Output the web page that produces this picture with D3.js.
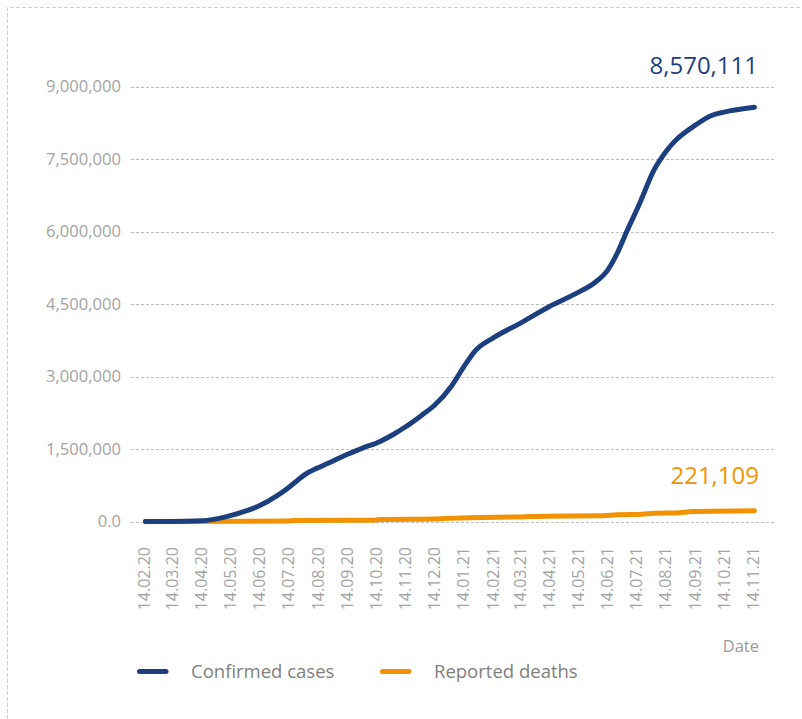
<!DOCTYPE html>
<html>
<head>
<meta charset="utf-8">
<script src="https://cdn.jsdelivr.net/npm/d3@7"></script>
<style>
  body { margin: 0; background: #fff; }
  svg text { font-family: "Open Sans", sans-serif; }
</style>
</head>
<body>
<div id="chart"></div>
<script>
// data
const caseDates = ["2020-02-15","2020-03-14","2020-04-14","2020-05-01","2020-05-14","2020-06-01","2020-06-14",
  "2020-07-01","2020-07-14","2020-07-24","2020-08-01","2020-08-14","2020-08-24","2020-09-14","2020-10-01",
  "2020-10-14","2020-11-01","2020-11-14","2020-12-01","2020-12-14","2021-01-01","2021-01-14","2021-01-26",
  "2021-02-14","2021-03-14","2021-04-14","2021-05-14","2021-06-01","2021-06-14","2021-06-24","2021-07-04",
  "2021-07-18","2021-08-01","2021-08-14","2021-08-24","2021-09-14","2021-10-01","2021-10-14","2021-11-15"];
const confirmedCases = [0, 1000, 15000, 60000, 120000, 230000, 330000,
  520000, 700000, 860000, 980000, 1110000, 1200000, 1390000, 1530000,
  1620000, 1800000, 1960000, 2200000, 2400000, 2800000, 3200000, 3530000,
  3800000, 4100000, 4450000, 4740000, 4950000, 5200000, 5550000, 6000000,
  6600000, 7250000, 7650000, 7880000, 8200000, 8400000, 8470000, 8570111];

const deathDates = ["2020-02-15","2020-07-12","2020-07-20","2020-10-12","2020-10-20","2020-12-12","2020-12-26",
  "2021-01-20","2021-03-14","2021-04-10","2021-06-08","2021-06-24","2021-07-20","2021-08-01","2021-08-28",
  "2021-09-10","2021-11-15"];
const reportedDeaths = [0, 8000, 20000, 28000, 40000, 50000, 62000,
  80000, 95000, 110000, 120000, 140000, 150000, 170000, 182000,
  205000, 221109];

const yTicks = [0, 1500000, 3000000, 4500000, 6000000, 7500000, 9000000];
const yTickLabels = ["0.0", "1,500,000", "3,000,000", "4,500,000", "6,000,000", "7,500,000", "9,000,000"];
const xTickDates = ["2020-02-14","2020-03-14","2020-04-14","2020-05-14","2020-06-14","2020-07-14","2020-08-14",
  "2020-09-14","2020-10-14","2020-11-14","2020-12-14","2021-01-14","2021-02-14","2021-03-14","2021-04-14",
  "2021-05-14","2021-06-14","2021-07-14","2021-08-14","2021-09-14","2021-10-14","2021-11-14"];
const seriesNames = ["Confirmed cases", "Reported deaths"];
const seriesColors = ["#1c3f7f", "#f39200"];

const W = 802, H = 719;
const parse = d3.utcParse("%Y-%m-%d");
const fmtTick = d3.utcFormat("%d.%m.%y");

const svg = d3.select("#chart").append("svg")
  .attr("width", W).attr("height", H);

// dashed frame (runs off the right and bottom edges)
svg.append("path")
  .attr("d", "M7.5," + H + "V7.5H" + W)
  .attr("fill", "none")
  .attr("stroke", "#d0d0d0")
  .attr("stroke-dasharray", "4,2");

const xScale = d3.scaleUtc()
  .domain([parse(xTickDates[0]), parse(xTickDates[xTickDates.length - 1])])
  .range([144.5, 753.5]);
const yScale = d3.scaleLinear().domain([0, 9000000]).range([521.5, 86.5]);

// gridlines + y labels
const yAxis = svg.append("g");
yAxis.selectAll("line").data(yTicks).enter().append("line")
  .attr("x1", 131).attr("x2", 775)
  .attr("y1", d => Math.round(yScale(d)) + 0.5)
  .attr("y2", d => Math.round(yScale(d)) + 0.5)
  .attr("stroke", "#bdbdbd")
  .attr("stroke-dasharray", "3,2");
yAxis.selectAll("text").data(yTicks).enter().append("text")
  .attr("x", 121)
  .attr("y", d => yScale(d))
  .attr("dy", "0.35em")
  .attr("text-anchor", "end")
  .attr("font-size", 16.6)
  .attr("fill", "#a3a3a3")
  .text((d, i) => yTickLabels[i]);

// x labels, vertical
svg.append("g").selectAll("text").data(xTickDates).enter().append("text")
  .attr("transform", d => "translate(" + xScale(parse(d)) + ",547) rotate(-90)")
  .attr("dy", "0.35em")
  .attr("text-anchor", "end")
  .attr("font-size", 16)
  .attr("fill", "#a3a3a3")
  .text(d => fmtTick(parse(d)));

svg.append("text")
  .attr("x", 759).attr("y", 652)
  .attr("text-anchor", "end")
  .attr("font-size", 16.5)
  .attr("fill", "#9a9a9a")
  .text("Date");

const line = d3.line()
  .x(d => xScale(d[0]))
  .y(d => yScale(d[1]))
  .curve(d3.curveMonotoneX);

const deaths = deathDates.map((d, i) => [parse(d), reportedDeaths[i]]);
const cases = caseDates.map((d, i) => [parse(d), confirmedCases[i]]);

[deaths, cases].forEach((s, i) => {
  svg.append("path")
    .datum(s)
    .attr("d", line)
    .attr("fill", "none")
    .attr("stroke", i === 0 ? seriesColors[1] : seriesColors[0])
    .attr("stroke-width", 5)
    .attr("stroke-linecap", "round")
    .attr("stroke-linejoin", "round");
});

// end value labels
svg.append("text")
  .attr("x", 758).attr("y", 74)
  .attr("text-anchor", "end")
  .attr("font-size", 24)
  .attr("fill", seriesColors[0])
  .text(d3.format(",")(confirmedCases[confirmedCases.length - 1]));
svg.append("text")
  .attr("x", 759).attr("y", 484)
  .attr("text-anchor", "end")
  .attr("font-size", 24)
  .attr("fill", seriesColors[1])
  .text(d3.format(",")(reportedDeaths[reportedDeaths.length - 1]));

// legend
const legendX = [137, 380];
const lg = svg.append("g").selectAll("g").data(seriesNames).enter().append("g")
  .attr("transform", (d, i) => "translate(" + legendX[i] + ",671.5)");
lg.append("line")
  .attr("x1", 2.5).attr("x2", 29)
  .attr("stroke", (d, i) => seriesColors[i])
  .attr("stroke-width", 5)
  .attr("stroke-linecap", "round");
lg.append("text")
  .attr("x", 54).attr("y", 0)
  .attr("dy", "0.35em")
  .attr("font-size", 18.5)
  .attr("fill", "#808080")
  .text(d => d);
</script>
</body>
</html>
